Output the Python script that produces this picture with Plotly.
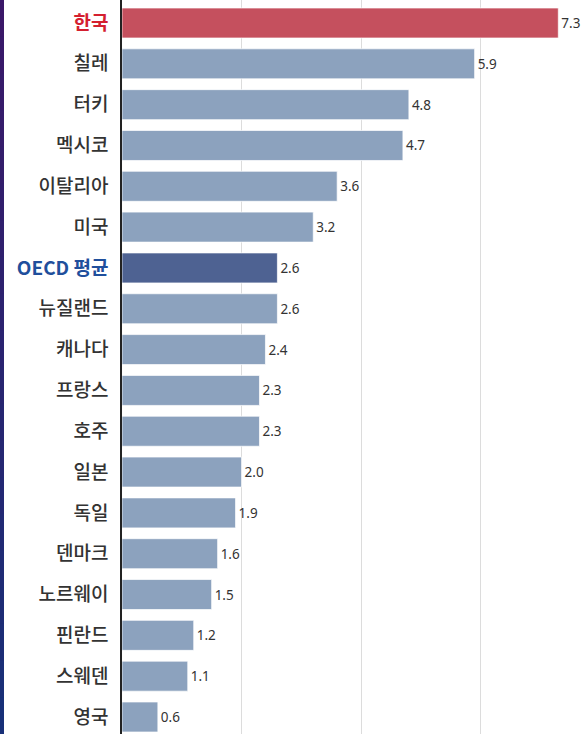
import plotly.graph_objects as go

countries = ["한국", "칠레", "터키", "멕시코", "이탈리아", "미국", "OECD 평균", "뉴질랜드",
             "캐나다", "프랑스", "호주", "일본", "독일", "덴마크", "노르웨이", "핀란드", "스웨덴", "영국"]
values = [7.3, 5.9, 4.8, 4.7, 3.6, 3.2, 2.6, 2.6, 2.4, 2.3, 2.3, 2.0, 1.9, 1.6, 1.5, 1.2, 1.1, 0.6]

RED = "#c5505e"
BLUE = "#8ca2be"
NAVY = "#4e6292"

colors = []
ticktext = []
for c in countries:
    if c == "한국":
        colors.append(RED)
        ticktext.append("<b><span style='color:#d4202f'>%s</span></b>" % c)
    elif c == "OECD 평균":
        colors.append(NAVY)
        ticktext.append("<b><span style='color:#1f4f9c'>%s</span></b>" % c)
    else:
        colors.append(BLUE)
        ticktext.append(c)

fig = go.Figure(go.Bar(
    x=values, y=countries, orientation="h",
    marker=dict(color=colors, line=dict(color="rgba(255,255,255,0.7)", width=1)),
    text=["%.1f" % v for v in values], textposition="outside",
    textfont=dict(family="Noto Sans", size=13.5, color="#333"),
    cliponaxis=False, width=0.735,
))

L = 122
W = 587
pw = W - L
fig.update_layout(
    width=W, height=734,
    margin=dict(l=L, r=0, t=0, b=0),
    paper_bgcolor="white", plot_bgcolor="white",
    showlegend=False,
    xaxis=dict(range=[0, 7.78], showticklabels=False, showgrid=True, gridcolor="#dcdcdc",
               gridwidth=1, dtick=2, zeroline=False, fixedrange=True),
    yaxis=dict(range=[17.4165, -0.5635], tickmode="array", tickvals=countries, ticktext=ticktext,
               tickfont=dict(family="Noto Sans CJK KR", size=19, color="#333", weight=500),
               showline=True, linecolor="#222", linewidth=1.5, ticks="", ticklabelstandoff=8,
               showgrid=False),
)

# left decorative strip with vertical gradient (segments overlap to avoid seams)
n = 20
top = (58, 24, 104)
bot = (24, 48, 120)
for i in range(n):
    t = i / (n - 1)
    col = "rgb(%d,%d,%d)" % tuple(round(top[k] + (bot[k] - top[k]) * t) for k in range(3))
    fig.add_shape(type="rect", xref="paper", yref="paper",
                  x0=-L / pw, x1=(-L + 4) / pw,
                  y0=max(0, 1 - (i + 1) / n - 0.01), y1=1 - i / n,
                  fillcolor=col, line=dict(width=0), layer="above")

fig.write_html("out.html", config={"displayModeBar": False},
               post_script="document.body.style.margin='0';document.body.style.overflow='hidden';")
